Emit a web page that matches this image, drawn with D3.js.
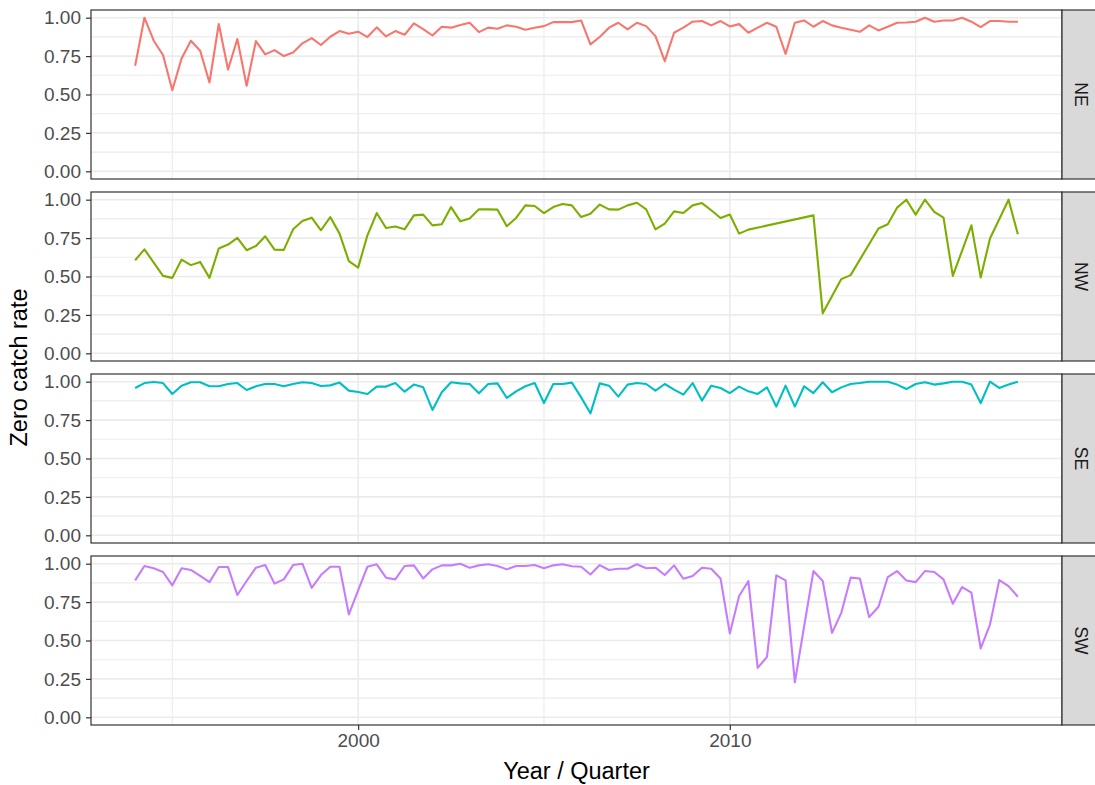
<!DOCTYPE html>
<html>
<head>
<meta charset="utf-8">
<script src="https://cdn.jsdelivr.net/npm/d3@7"></script>
<style>
body { margin: 0; background: #fff; }
text { font-family: "Liberation Sans", Arial, Helvetica, sans-serif; }
</style>
</head>
<body>
<script>
// facets and colours
var regions = ["NE", "NW", "SE", "SW"];
var colours = ["#F8766D", "#7CAE00", "#00BFC4", "#C77CFF"];

// quarterly series, 1994 Q1 .. 2017 Q4 (null = no data that quarter)
var firstYear = 1994;
var neRate = [0.687,1.0,0.85,0.757,0.528,0.735,0.85,0.785,0.578,0.959,0.663,0.861,0.557,0.848,0.761,0.789,
  0.75,0.774,0.833,0.867,0.822,0.876,0.913,0.896,0.909,0.874,0.937,0.878,0.913,0.889,0.963,0.926,
  0.884,0.941,0.935,0.952,0.967,0.906,0.935,0.928,0.95,0.941,0.922,0.935,0.945,0.971,0.971,0.971,
  0.982,0.826,0.874,0.935,0.967,0.924,0.967,0.945,0.88,0.717,0.902,0.935,0.974,0.978,0.95,0.978,
  0.943,0.958,0.902,0.935,0.967,0.941,0.764,0.967,0.982,0.941,0.978,0.95,0.935,0.922,0.908,0.95,
  0.917,0.941,0.967,0.969,0.974,1.0,0.974,0.982,0.982,1.0,0.974,0.939,0.978,0.978,0.974,0.974];
var nwRate = [0.606,0.677,null,0.504,0.491,0.61,0.574,0.595,0.491,0.682,0.708,0.751,0.671,0.699,0.762,0.675,
  0.673,0.807,0.861,0.883,0.801,0.887,0.779,0.6,0.558,0.768,0.913,0.816,0.825,0.807,0.898,0.903,
  0.833,0.84,0.952,0.859,0.877,0.937,0.937,0.935,0.827,0.881,0.963,0.959,0.913,0.952,0.972,0.963,
  0.887,0.909,0.968,0.937,0.935,0.963,0.98,0.937,0.807,0.844,0.924,0.913,0.963,0.978,0.931,0.881,
  0.903,0.779,0.805,null,null,null,null,null,null,0.898,0.26,null,0.483,0.509,null,null,
  0.812,0.84,0.948,1.0,0.903,1.0,0.92,0.883,0.504,null,0.833,0.494,0.747,null,1.0,0.775];
var seRate = [0.959,0.991,0.998,0.991,0.92,0.974,0.996,0.996,0.97,0.97,0.985,0.991,0.946,0.97,0.985,0.985,
  0.97,0.985,0.996,0.991,0.972,0.976,0.994,0.942,0.933,0.92,0.968,0.968,0.991,0.935,0.981,0.963,
  0.816,0.931,0.996,0.989,0.985,0.924,0.985,0.989,0.894,0.937,0.97,0.991,0.861,0.985,0.985,0.994,
  0.898,0.794,0.989,0.974,0.903,0.981,0.991,0.985,0.942,0.985,0.948,0.916,0.991,0.877,0.974,0.959,
  0.926,0.968,0.937,0.92,0.963,0.838,0.974,0.838,0.97,0.926,0.996,0.931,0.963,0.985,0.991,1.0,
  1.0,1.0,0.981,0.952,0.985,0.996,0.981,0.989,1.0,1.0,0.981,0.861,1.0,0.959,0.981,1.0];
var swRate = [0.891,0.985,0.97,0.946,0.859,0.97,0.959,0.92,0.88,0.978,0.978,0.796,0.887,0.974,0.991,0.87,
  0.898,0.991,1.0,0.843,0.926,0.98,0.98,0.67,0.826,0.98,0.996,0.909,0.898,0.985,0.989,0.904,
  0.963,0.989,0.989,1.0,0.974,0.989,0.996,0.985,0.963,0.985,0.985,0.991,0.97,0.989,0.996,0.983,
  0.98,0.93,0.991,0.959,0.967,0.967,0.996,0.97,0.974,0.926,0.989,0.902,0.92,0.974,0.967,0.904,
  0.546,0.79,0.887,0.322,0.393,0.924,0.891,0.228,0.593,0.952,0.887,0.55,0.68,0.909,0.904,0.652,
  0.72,0.913,0.952,0.891,0.88,0.952,0.946,0.898,0.739,0.848,0.811,0.448,0.604,0.893,0.854,0.785];
var series = [neRate, nwRate, seRate, swRate];

var yTicks = [0, 0.25, 0.5, 0.75, 1];
var yMinor = [0.125, 0.375, 0.625, 0.875];
var xTicks = [2000, 2010];
var xMinor = [1995, 2005, 2015];

var width = 1095, height = 785;
var margin = { top: 10, left: 91, right: 33, bottom: 60 };
var stripW = 39;
var panelGap = 13;
var plotW = width - margin.left - margin.right;
var panelH = (height - margin.top - margin.bottom - panelGap * 3) / 4;
var tickFont = "19px", titleFont = "23.5px", stripFont = "17.5px";

var svg = d3.select("body").append("svg")
    .attr("width", width)
    .attr("height", height);

var lastX = firstYear + (neRate.length - 1) / 4;
var pad = (lastX - firstYear) * 0.05;
var x = d3.scaleLinear()
    .domain([firstYear - pad, lastX + pad])
    .range([0, plotW]);

var y = d3.scaleLinear()
    .domain([-0.05, 1.05])
    .range([panelH, 0]);

var line = d3.line()
    .x(function(d) { return x(d.t); })
    .y(function(d) { return y(d.v); });

regions.forEach(function(name, i) {
  var g = svg.append("g")
      .attr("transform", "translate(" + margin.left + "," + (margin.top + i * (panelH + panelGap)) + ")");

  g.append("rect")
      .attr("width", plotW)
      .attr("height", panelH)
      .attr("fill", "#fff");

  // minor grid
  g.selectAll(".ymin").data(yMinor).enter().append("line")
      .attr("x1", 0).attr("x2", plotW)
      .attr("y1", y).attr("y2", y)
      .attr("stroke", "#EBEBEB").attr("stroke-width", 1.1);
  g.selectAll(".xmin").data(xMinor).enter().append("line")
      .attr("x1", x).attr("x2", x)
      .attr("y1", 0).attr("y2", panelH)
      .attr("stroke", "#EBEBEB").attr("stroke-width", 1.1);
  // major grid
  g.selectAll(".ymaj").data(yTicks).enter().append("line")
      .attr("x1", 0).attr("x2", plotW)
      .attr("y1", y).attr("y2", y)
      .attr("stroke", "#EBEBEB").attr("stroke-width", 1.6);
  g.selectAll(".xmaj").data(xTicks).enter().append("line")
      .attr("x1", x).attr("x2", x)
      .attr("y1", 0).attr("y2", panelH)
      .attr("stroke", "#EBEBEB").attr("stroke-width", 1.6);

  // data: quarters without a value are skipped, so the line joins across them
  var pts = series[i].map(function(v, k) { return { t: firstYear + k / 4, v: v }; })
      .filter(function(d) { return d.v != null; });
  g.append("path")
      .datum(pts)
      .attr("d", line)
      .attr("fill", "none")
      .attr("stroke", colours[i])
      .attr("stroke-width", 2.1)
      .attr("stroke-linejoin", "round");

  g.append("rect")
      .attr("width", plotW)
      .attr("height", panelH)
      .attr("fill", "none")
      .attr("stroke", "#333333")
      .attr("stroke-width", 1.2);

  // y axis
  var yAxis = g.append("g")
      .call(d3.axisLeft(y).tickValues(yTicks).tickFormat(d3.format(".2f")).tickSize(5).tickPadding(5));
  yAxis.select(".domain").remove();
  yAxis.selectAll("line").attr("stroke", "#333333").attr("stroke-width", 1.2);
  yAxis.selectAll("text")
      .attr("fill", "#4D4D4D")
      .style("font-size", tickFont)
      .style("font-family", "'Liberation Sans', Arial, sans-serif");

  // strip
  var strip = g.append("g").attr("transform", "translate(" + plotW + ",0)");
  strip.append("rect")
      .attr("width", stripW)
      .attr("height", panelH)
      .attr("fill", "#D9D9D9")
      .attr("stroke", "#333333")
      .attr("stroke-width", 1.2);
  strip.append("text")
      .attr("transform", "translate(" + (stripW / 2) + "," + (panelH / 2) + ") rotate(90)")
      .attr("text-anchor", "middle")
      .attr("dy", "0.35em")
      .attr("fill", "#1A1A1A")
      .style("font-size", stripFont)
      .text(name);

  if (i === regions.length - 1) {
    var xAxis = g.append("g")
        .attr("transform", "translate(0," + panelH + ")")
        .call(d3.axisBottom(x).tickValues(xTicks).tickFormat(d3.format("d")).tickSize(5).tickPadding(4));
    xAxis.select(".domain").remove();
    xAxis.selectAll("line").attr("stroke", "#333333").attr("stroke-width", 1.2);
    xAxis.selectAll("text")
        .attr("fill", "#4D4D4D")
        .style("font-size", tickFont)
        .style("font-family", "'Liberation Sans', Arial, sans-serif");
  }
});

svg.append("text")
    .attr("x", margin.left + plotW / 2)
    .attr("y", 779)
    .attr("text-anchor", "middle")
    .attr("fill", "#000")
    .style("font-size", titleFont)
    .text("Year / Quarter");

svg.append("text")
    .attr("transform", "translate(27," + (margin.top + (height - margin.top - margin.bottom) / 2) + ") rotate(-90)")
    .attr("text-anchor", "middle")
    .attr("fill", "#000")
    .style("font-size", titleFont)
    .text("Zero catch rate");
</script>
</body>
</html>
